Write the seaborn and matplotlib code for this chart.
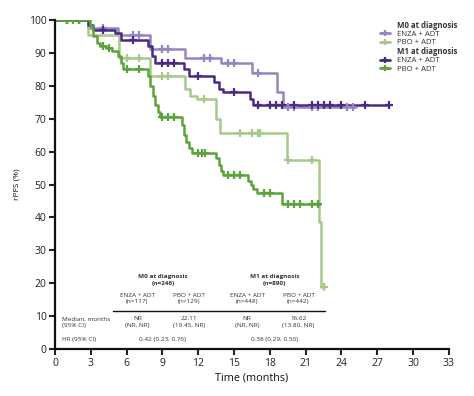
import numpy as np
import pandas as pd
import matplotlib
matplotlib.use("Agg")
import matplotlib.pyplot as plt
from matplotlib.lines import Line2D
import seaborn as sns

# ---------------- data ----------------
series_names = ["M0 ENZA + ADT", "M0 PBO + ADT", "M1 ENZA + ADT", "M1 PBO + ADT"]
series_colors = ["#9785bf", "#a6c98c", "#4b2a86", "#5da33c"]

m0_enza_t = [0, 2.8, 5.3, 8.0, 10.9, 13.9, 16.5, 18.6, 19.1]
m0_enza_s = [100, 97.5, 95.5, 91, 88.5, 87, 84, 78, 73.5]
m0_enza_end = 25.2
m0_enza_cens = [1, 2, 4, 6.5, 7, 9, 9.5, 12.5, 13, 14.5, 15, 17, 19.5, 20, 21.5, 22, 24.5, 25]

m0_pbo_t = [0, 2.8, 5.4, 8.0, 10.9, 11.3, 11.9, 13.5, 13.8, 19.4, 22.1, 22.3]
m0_pbo_s = [100, 95.5, 88.5, 83, 79, 77, 76, 70, 65.5, 57.5, 38.5, 19]
m0_pbo_end = 22.5
m0_pbo_cens = [1, 6, 7, 9, 9.5, 12.5, 15.5, 16.5, 17, 17.2, 19.5, 21.5, 22.5]

m1_enza_t = [0, 2.8, 3.2, 5.0, 5.5, 7.8, 8.1, 8.4, 10.8, 11.2, 13.3, 13.7, 14.1, 16.3, 16.6]
m1_enza_s = [100, 98.5, 97, 96, 94, 92, 89, 87, 85, 83, 81, 79, 78, 76, 74]
m1_enza_end = 28
m1_enza_cens = [1, 2, 4, 6.5, 9, 9.5, 10, 12, 15, 17, 18, 18.5, 19, 20, 21.5, 22, 22.5, 23, 24, 26, 28]

m1_pbo_t = [0, 2.9, 3.2, 3.5, 3.8, 4.3, 4.8, 5.3, 5.5, 5.7, 7.8, 8.0, 8.2, 8.4, 8.6, 8.8,
            10.6, 10.8, 11.0, 11.2, 11.5, 13.5, 13.7, 13.9, 14.1, 16.2, 16.4, 16.6, 16.9, 19.0]
m1_pbo_s = [100, 98, 95, 93, 92, 91.5, 90.5, 89, 87, 85, 83, 80, 77, 74, 72, 70.5,
            68, 65, 63, 61, 59.5, 58, 56, 54, 53, 51, 50, 48.5, 47.5, 44]
m1_pbo_end = 22.2
m1_pbo_cens = [1, 1.5, 2, 4, 4.5, 6, 7, 9, 9.5, 10, 12, 12.3, 12.6, 14.5, 15, 15.5,
               17.5, 18, 19.5, 20, 20.5, 21.5, 22]

x_ticks = [0, 3, 6, 9, 12, 15, 18, 21, 24, 27, 30, 33]
y_ticks = [0, 10, 20, 30, 40, 50, 60, 70, 80, 90, 100]

groups_hdr = ["M0 at diagnosis\n(n=246)", "M1 at diagnosis\n(n=890)"]
arms_hdr = ["ENZA + ADT\n(n=117)", "PBO + ADT\n(n=129)", "ENZA + ADT\n(n=448)", "PBO + ADT\n(n=442)"]
medians = ["NR\n(NR, NR)", "22.11\n(19.45, NR)", "NR\n(NR, NR)", "16.62\n(13.80, NR)"]
hrs = ["0.42 (0.23, 0.76)", "0.38 (0.29, 0.50)"]

# ---------------- build frames ----------------
all_t = [m0_enza_t, m0_pbo_t, m1_enza_t, m1_pbo_t]
all_s = [m0_enza_s, m0_pbo_s, m1_enza_s, m1_pbo_s]
all_end = [m0_enza_end, m0_pbo_end, m1_enza_end, m1_pbo_end]
all_c = [m0_enza_cens, m0_pbo_cens, m1_enza_cens, m1_pbo_cens]

line_rows, cens_rows = [], []
for name, t, s, end, c in zip(series_names, all_t, all_s, all_end, all_c):
    tt = list(t) + [end]
    ss = list(s) + [s[-1]]
    for a, b in zip(tt, ss):
        line_rows.append((name, a, b))
    tarr = np.array(t)
    for ct in c:
        idx = np.searchsorted(tarr, ct, side="right") - 1
        cens_rows.append((name, ct, s[idx]))
lines_df = pd.DataFrame(line_rows, columns=["group", "time", "surv"])
cens_df = pd.DataFrame(cens_rows, columns=["group", "time", "surv"])

# ---------------- plot ----------------
sns.set_theme(style="ticks")
plt.rcParams["font.family"] = ["Open Sans", "DejaVu Sans"]

fig = plt.figure(figsize=(4.74, 3.96), dpi=100)
ax = fig.add_axes([0.116, 0.118, 0.831, 0.832])

pal = dict(zip(series_names, series_colors))
for name in series_names:
    sub = lines_df[lines_df.group == name]
    sns.lineplot(data=sub, x="time", y="surv", color=pal[name], lw=1.8,
                 drawstyle="steps-post", estimator=None, sort=False, ax=ax, legend=False)
    csub = cens_df[cens_df.group == name]
    sns.scatterplot(data=csub, x="time", y="surv", color=pal[name], marker="+",
                    s=28, linewidth=1.6, ax=ax, legend=False, zorder=3)

ax.set_xlim(0, 33)
ax.set_ylim(0, 100)
ax.set_xticks(x_ticks)
ax.set_yticks(y_ticks)
ax.tick_params(axis="both", labelsize=7.5, length=4, width=1.5, colors="#222222", pad=2)
for sp in ["left", "bottom"]:
    ax.spines[sp].set_linewidth(1.6)
    ax.spines[sp].set_color("#111111")
for sp in ["top", "right"]:
    ax.spines[sp].set_visible(False)
ax.spines["left"].set_bounds(0, 100)
ax.set_xlabel("Time (months)", fontsize=7.8, color="#111111", labelpad=3)
ax.set_ylabel("rPFS (%)", fontsize=6, color="#111111", labelpad=6)

# ---------------- table ----------------
tfs = 4.6
tc = "#333333"
ax.text(9.05, 21.0, groups_hdr[0], ha="center", va="center", fontsize=tfs, fontweight="bold", color=tc, linespacing=1.3)
ax.text(18.4, 21.0, groups_hdr[1], ha="center", va="center", fontsize=tfs, fontweight="bold", color=tc, linespacing=1.3)
arm_x = [6.9, 11.2, 16.1, 20.4]
for xx, lab in zip(arm_x, arms_hdr):
    ax.text(xx, 15.3, lab, ha="center", va="center", fontsize=tfs, color=tc, linespacing=1.3)
ax.plot([4.9, 22.6], [11.6, 11.6], color="#111111", lw=1.0)
ax.text(0.6, 8.3, "Median, months\n(95% CI)", ha="left", va="center", fontsize=tfs, color=tc, linespacing=1.3)
for xx, lab in zip(arm_x, medians):
    ax.text(xx, 8.3, lab, ha="center", va="center", fontsize=tfs, color=tc, linespacing=1.3)
ax.text(0.6, 3.0, "HR (95% CI)", ha="left", va="center", fontsize=tfs, color=tc)
ax.text(9.0, 3.0, hrs[0], ha="center", va="center", fontsize=tfs, color=tc)
ax.text(18.4, 3.0, hrs[1], ha="center", va="center", fontsize=tfs, color=tc)

# ---------------- legend ----------------
blank = Line2D([], [], color="none")
handles = [blank,
           Line2D([], [], color=series_colors[0], lw=2, marker="+", ms=4.5, mew=1.6),
           Line2D([], [], color=series_colors[1], lw=2, marker="+", ms=4.5, mew=1.6),
           blank,
           Line2D([], [], color=series_colors[2], lw=2, marker="+", ms=4.5, mew=1.6),
           Line2D([], [], color=series_colors[3], lw=2, marker="+", ms=4.5, mew=1.6)]
labels = ["M0 at diagnosis", "ENZA + ADT", "PBO + ADT", "M1 at diagnosis", "ENZA + ADT", "PBO + ADT"]
leg = fig.legend(handles, labels, loc="upper left", bbox_to_anchor=(0.795, 0.955),
                 frameon=False, fontsize=5.6, handlelength=1.3, handletextpad=0.9,
                 labelspacing=0.1, borderaxespad=0)
for i, txt in enumerate(leg.get_texts()):
    txt.set_color("#333333")
    if i in (0, 3):
        txt.set_fontweight("bold")

fig.savefig("out.png", dpi=100)
